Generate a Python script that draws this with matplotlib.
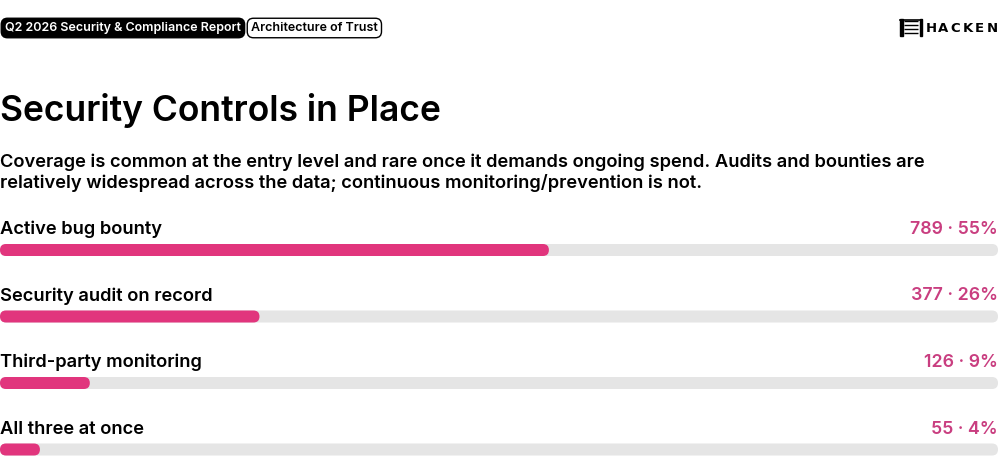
import matplotlib.pyplot as plt
from matplotlib.patches import FancyBboxPatch

plt.rcParams['font.family'] = ['Inter', 'DejaVu Sans']

labels = ["Active bug bounty", "Security audit on record", "Third-party monitoring", "All three at once"]
counts = [789, 377, 126, 55]
pcts = [55, 26, 9, 4]

tag1 = "Q2 2026 Security & Compliance Report"
tag2 = "Architecture of Trust"
title = "Security Controls in Place"
subtitle = ("Coverage is common at the entry level and rare once it demands ongoing spend. Audits and bounties are\n"
            "relatively widespread across the data; continuous monitoring/prevention is not.")

pink = "#e1357d"
pink_txt = "#c93e80"
track = "#e5e5e5"

fig = plt.figure(figsize=(10, 4.72), dpi=100)
fig.patch.set_facecolor("white")

# header / text layer in pixel coordinates
tx = fig.add_axes([0, 0, 1, 1])
tx.set_xlim(0, 1000)
tx.set_ylim(472, 0)
tx.axis("off")

tx.text(5, 28, tag1, fontsize=9, fontweight="semibold", color="white", va="center", ha="left",
        bbox=dict(boxstyle="round,pad=0.3,rounding_size=0.5", fc="black", ec="black", lw=1))
tx.text(251, 28, tag2, fontsize=9, fontweight="semibold", color="black", va="center", ha="left",
        bbox=dict(boxstyle="round,pad=0.3,rounding_size=0.5", fc="white", ec="black", lw=1))

# logo
lx, ly = 900, 19
for dy in [2, 6, 10, 14]:
    tx.plot([lx + 4, lx + 18], [ly + dy, ly + dy], color="black", lw=1.0, solid_capstyle="butt")
tx.plot([lx, lx + 22], [ly + 0.5, ly + 0.5], color="black", lw=1.2)
tx.add_patch(plt.Rectangle((lx, ly), 2.5, 17, color="black"))
tx.add_patch(plt.Rectangle((lx + 19.5, ly), 2.5, 17, color="black"))
for k, ch in enumerate("HACKEN"):
    tx.text(926 + k * 12.2, 28.5, ch, fontsize=9.5, fontweight="heavy", color="black", va="center", ha="left",
            family="DejaVu Sans")

tx.text(0, 110, title, fontsize=25.5, fontweight="semibold", color="black", va="center", ha="left")
tx.text(0, 173, subtitle, fontsize=13.2, fontweight="semibold", color="black", va="center", ha="left",
        linespacing=1.25)

# bars
row_px = 66.5
first_px = 250
ax = fig.add_axes([0, 0, 0.998, 1])
ax.set_xlim(0, 100)
ax.set_ylim((472 - first_px) / row_px, -first_px / row_px)
ax.axis("off")

h = 12 / row_px
r = 6 * 100 / 998
asp = (1 / row_px) / (100 / 998)
for i, (lab, c, p) in enumerate(zip(labels, counts, pcts)):
    ax.add_patch(FancyBboxPatch((0, i - h / 2), 100, h, boxstyle=f"round,pad=0,rounding_size={r}",
                                mutation_aspect=asp, fc=track, ec="none"))
    ax.add_patch(FancyBboxPatch((0, i - h / 2), p, h, boxstyle=f"round,pad=0,rounding_size={r}",
                                mutation_aspect=asp, fc=pink, ec="none"))
    ax.text(0, i - 20.5 / row_px, lab, fontsize=13.2, fontweight="semibold", color="black", va="center", ha="left")
    ax.text(100, i - 20.5 / row_px, f"{c} \u00b7 {p}%", fontsize=12.8, fontweight="semibold", color=pink_txt,
            va="center", ha="right")

fig.savefig("out.png", dpi=100)
